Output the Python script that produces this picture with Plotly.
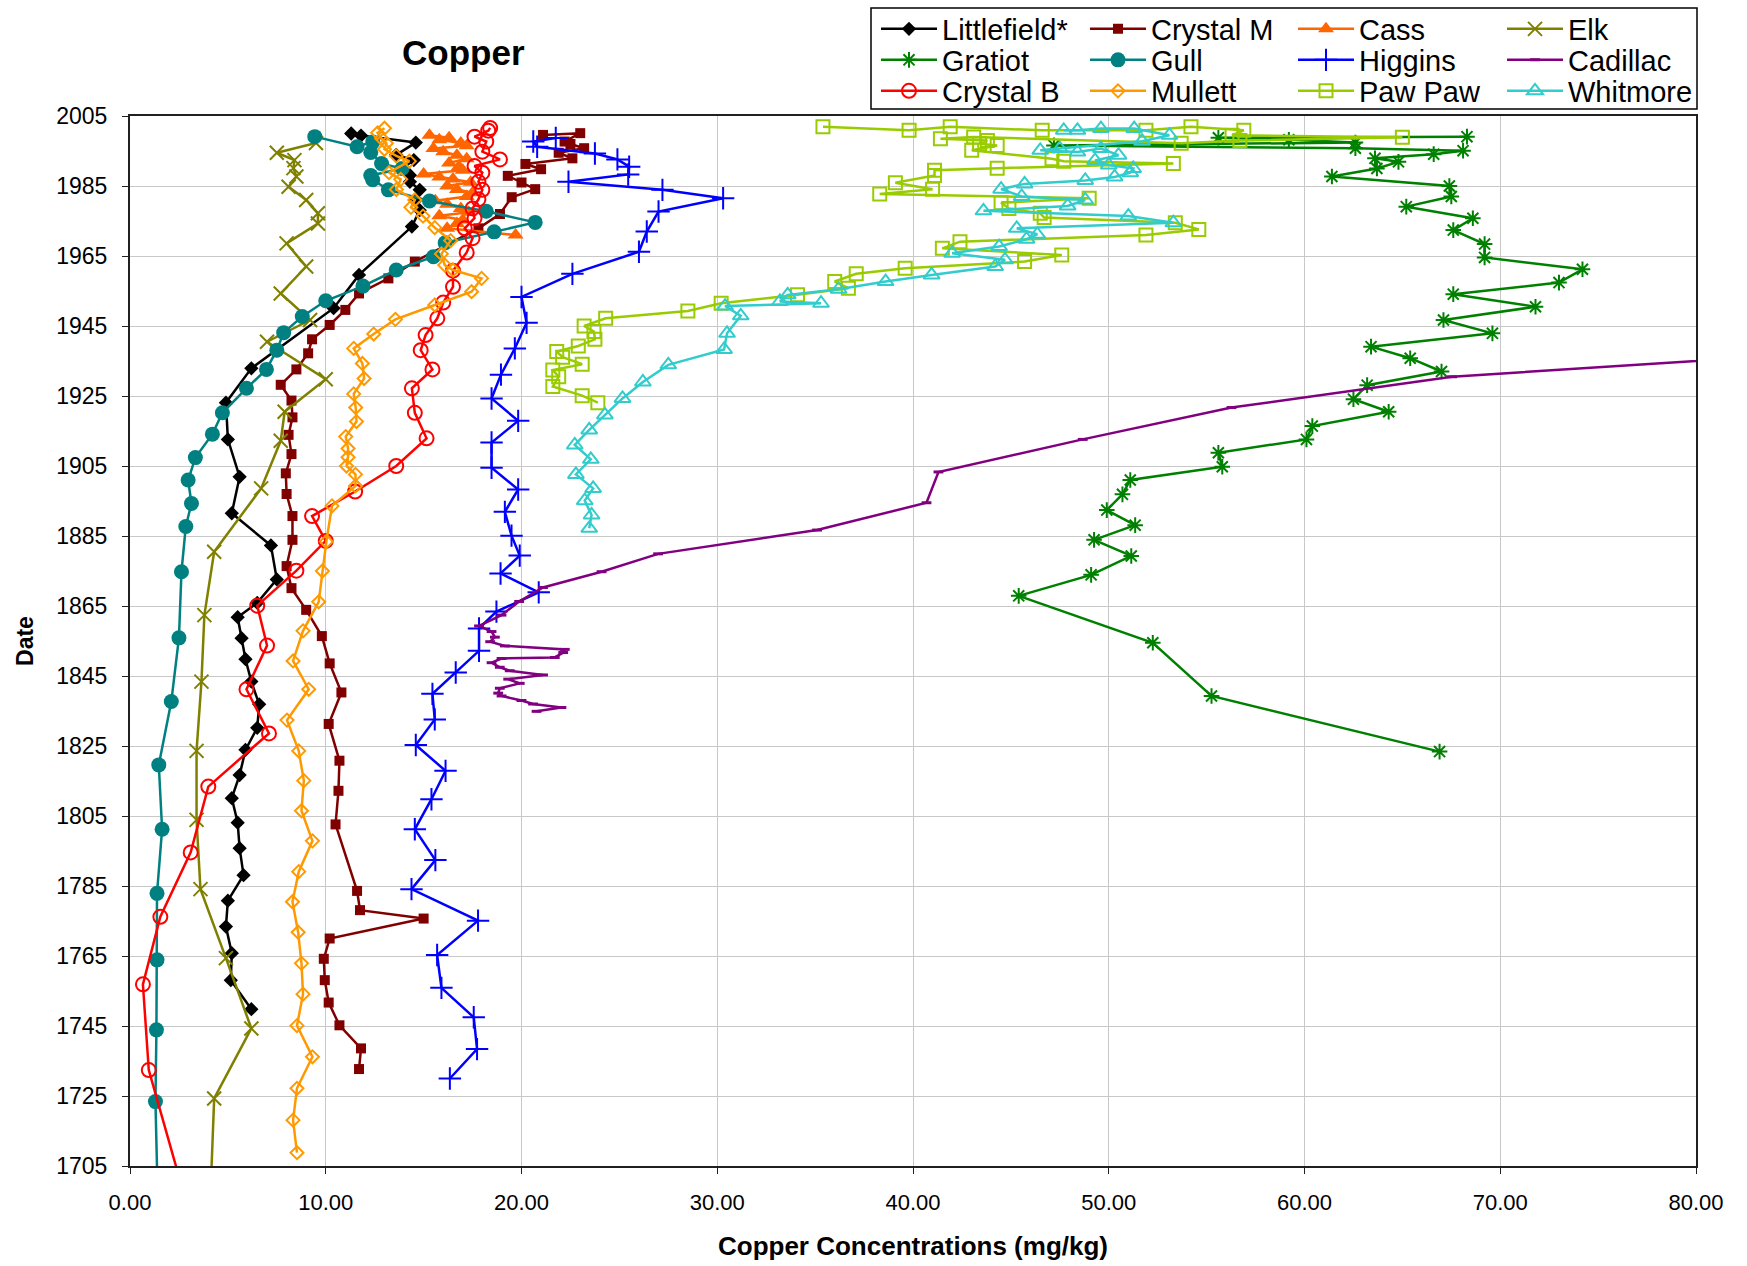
import plotly.graph_objects as go

# ---- Copper concentration (mg/kg) versus sediment date, one core per lake ----
# Each list runs from the top of the core (most recent) downward.

littlefield_yr = [2000.0, 1999.4, 1997.4, 1993.9, 1992.4, 1990.1, 1988.1, 1986.2, 1983.9, 1981.0,
                  1978.1, 1973.4, 1959.6, 1950.1, 1932.9, 1923.1, 1912.6, 1901.9, 1891.5, 1882.3,
                  1872.6, 1865.9, 1861.8, 1855.8, 1849.8, 1843.4, 1836.9, 1830.2, 1823.9, 1816.7,
                  1810.1, 1803.1, 1795.8, 1788.1, 1780.8, 1773.4, 1765.8, 1758.1, 1749.8]
littlefield_cu = [11.3, 11.8, 14.6, 13.6, 14.5, 13.9, 14.3, 14.3, 14.8, 14.6,
                  14.8, 14.4, 11.7, 10.4, 6.2, 4.9, 5.0, 5.6, 5.2, 7.2,
                  7.5, 6.5, 5.5, 5.7, 5.9, 6.2, 6.6, 6.5, 5.9, 5.6,
                  5.2, 5.5, 5.6, 5.8, 5.0, 4.9, 5.2, 5.15, 6.2]

crystal_m_yr = [1999.6, 2000.1, 1997.7, 1997.0, 1995.8, 1994.5, 1992.9, 1991.3, 1989.8, 1987.9,
                1986.0, 1984.1, 1981.8, 1977.0, 1972.9, 1963.4, 1958.6, 1954.3, 1949.6, 1945.3,
                1941.2, 1937.2, 1932.6, 1928.2, 1923.7, 1918.9, 1913.9, 1908.4, 1902.9, 1897.0,
                1890.7, 1883.9, 1876.4, 1870.1, 1863.9, 1856.4, 1848.6, 1840.3, 1831.3, 1820.8,
                1812.2, 1802.6, 1783.6, 1778.1, 1775.7, 1770.0, 1764.2, 1758.1, 1751.7, 1745.2,
                1738.6, 1732.7]
crystal_m_cu = [21.1, 23.0, 22.2, 22.5, 23.2, 21.9, 22.6, 20.2, 21.0, 19.3,
                20.0, 20.7, 19.5, 18.9, 17.8, 14.55, 13.2, 11.7, 11.0, 10.2,
                9.3, 9.1, 8.5, 7.7, 8.25, 8.3, 8.1, 8.25, 7.96, 8.0,
                8.3, 8.3, 8.0, 8.25, 9.0, 9.8, 10.2, 10.8, 10.15, 10.7,
                10.65, 10.5, 11.6, 11.75, 15.0, 10.2, 9.9, 9.95, 10.15, 10.7,
                11.8, 11.7]

cass_yr = [1999.5, 1998.8, 1998.2, 1997.3, 1996.5, 1995.7, 1994.8, 1993.8, 1992.8, 1991.6,
           1990.6, 1989.5, 1988.4, 1987.6, 1987.0, 1986.1, 1985.0, 1984.0, 1983.1, 1982.0,
           1980.8, 1979.8, 1978.6, 1977.5, 1976.5, 1975.3, 1974.3, 1972.9, 1971.0]
cass_cu = [15.3, 16.3, 15.8, 16.9, 17.2, 15.5, 16.0, 16.7, 17.2, 16.3,
           16.8, 17.0, 15.0, 15.8, 16.5, 17.4, 16.2, 16.7, 17.5, 17.2,
           15.6, 16.2, 16.9, 17.3, 15.8, 17.0, 16.7, 16.2, 19.7]

elk_yr = [1997.3, 1994.5, 1992.4, 1990.1, 1987.7, 1984.8, 1981.0, 1977.2, 1974.3, 1968.6,
          1962.0, 1954.3, 1946.7, 1940.5, 1929.8, 1920.5, 1912.2, 1898.6, 1880.5, 1862.4,
          1843.4, 1823.6, 1803.9, 1784.1, 1764.4, 1744.3, 1724.3, 1695.0]
elk_cu = [9.5, 7.5, 8.4, 8.35, 8.5, 8.1, 9.0, 9.6, 9.6, 8.0,
          9.0, 7.7, 9.2, 7.0, 10.0, 7.9, 7.7, 6.7, 4.3, 3.8,
          3.65, 3.4, 3.4, 3.6, 4.9, 6.2, 4.3, 4.1]

gratiot_yr = [1999.1, 1998.8, 1998.2, 1997.4, 1996.6, 1995.8, 1995.1, 1994.1, 1992.9, 1991.9,
              1990.0, 1987.7, 1985.0, 1982.0, 1979.1, 1975.8, 1972.4, 1968.4, 1964.6, 1961.2,
              1957.4, 1954.1, 1950.5, 1946.7, 1942.9, 1939.1, 1935.8, 1932.0, 1928.1, 1924.1,
              1920.5, 1916.4, 1912.6, 1908.8, 1904.8, 1901.0, 1896.9, 1892.4, 1888.1, 1883.9,
              1879.3, 1873.9, 1867.9, 1854.5, 1839.3, 1823.4]
gratiot_cu = [68.3, 55.6, 59.2, 62.6, 47.2, 62.6, 68.1, 66.6, 63.6, 64.8,
              63.7, 61.4, 67.4, 67.5, 65.2, 68.6, 67.6, 69.2, 69.2, 74.2,
              73.0, 67.6, 71.8, 67.1, 69.6, 63.4, 65.4, 67.0, 63.2, 62.5,
              64.3, 60.4, 60.1, 55.6, 55.8, 51.1, 50.7, 49.9, 51.35, 49.25,
              51.15, 49.1, 45.4, 52.25, 55.25, 66.9]

gull_yr = [1999.1, 1996.2, 1997.6, 1994.6, 1991.4, 1990.0, 1988.0, 1986.8, 1983.9, 1980.7,
           1977.8, 1974.6, 1971.9, 1968.8, 1964.8, 1961.0, 1956.4, 1952.2, 1947.7, 1943.1,
           1938.1, 1932.6, 1927.2, 1920.2, 1914.1, 1907.4, 1901.0, 1894.3, 1887.7, 1874.8,
           1855.9, 1837.7, 1819.6, 1801.2, 1782.9, 1763.9, 1743.9, 1723.4, 1695.0]
gull_cu = [9.44, 11.6, 12.4, 12.3, 12.85, 13.9, 12.3, 12.4, 13.2, 15.3,
           18.2, 20.7, 18.6, 16.1, 15.5, 13.6, 11.9, 10.0, 8.8, 7.85,
           7.5, 6.97, 5.95, 4.72, 4.21, 3.34, 2.97, 3.14, 2.85, 2.63,
           2.5, 2.11, 1.47, 1.64, 1.38, 1.38, 1.35, 1.3, 1.42]

higgins_yr = [1998.7, 1997.7, 1996.2, 1994.3, 1992.6, 1990.5, 1988.3, 1986.2, 1983.9, 1981.5,
              1977.7, 1972.0, 1966.2, 1959.9, 1953.3, 1945.9, 1938.6, 1931.1, 1924.3, 1917.9,
              1911.7, 1904.5, 1898.3, 1891.9, 1885.1, 1879.4, 1874.3, 1868.9, 1863.4, 1858.6,
              1852.2, 1846.0, 1839.9, 1832.6, 1825.3, 1817.9, 1809.8, 1801.2, 1792.4, 1784.1,
              1775.1, 1765.3, 1755.9, 1747.5, 1738.4, 1730.0]
higgins_cu = [21.75, 20.6, 20.8, 23.75, 24.9, 25.5, 25.45, 22.4, 27.2, 30.3,
              27.0, 26.4, 26.0, 22.6, 20.0, 20.26, 19.66, 18.95, 18.47, 19.83,
              18.47, 18.47, 19.83, 19.15, 19.49, 19.91, 18.93, 20.88, 18.72, 17.83,
              17.83, 16.64, 15.45, 15.57, 14.6, 16.12, 15.4, 14.55, 15.6, 14.38,
              17.78, 15.69, 15.91, 17.56, 17.73, 16.34]

cadillac_yr = [1936.8, 1930.5, 1921.7, 1912.6, 1903.3, 1894.5, 1886.7, 1879.9, 1874.8, 1870.3,
               1866.3, 1862.4, 1859.3, 1857.7, 1856.1, 1854.8, 1853.6, 1852.6, 1851.7, 1850.3,
               1850.0, 1848.8, 1847.5, 1846.5, 1845.3, 1844.1, 1842.9, 1841.5, 1840.1, 1839.3,
               1838.0, 1837.0, 1836.0, 1834.9]
cadillac_cu = [85.0, 67.54, 56.27, 48.67, 41.3, 40.69, 35.1, 26.98, 24.09, 21.1,
               19.88, 18.98, 17.83, 18.47, 18.64, 18.4, 19.15, 22.21, 22.13, 21.7,
               18.98, 18.47, 18.89, 19.4, 21.1, 19.32, 19.91, 18.89, 18.81, 18.98,
               20.0, 20.59, 22.04, 20.77]

crystal_b_yr = [2001.6, 2000.8, 1999.1, 1997.7, 1994.8, 1992.6, 1990.7, 1988.8, 1986.2, 1983.9,
                1981.2, 1978.6, 1975.8, 1972.9, 1970.1, 1966.0, 1960.8, 1956.2, 1951.7, 1947.2,
                1942.4, 1938.1, 1932.6, 1927.2, 1920.2, 1912.9, 1905.0, 1897.7, 1890.7, 1883.6,
                1875.1, 1865.1, 1853.7, 1841.2, 1828.6, 1813.4, 1794.6, 1776.2, 1756.9, 1732.4,
                1700.0]
crystal_b_cu = [18.4, 18.3, 17.6, 18.2, 18.0, 18.9, 17.6, 18.0, 17.8, 18.0,
                17.8, 17.5, 17.6, 17.1, 17.5, 17.2, 16.5, 16.5, 16.0, 15.7,
                15.1, 14.85, 15.45, 14.4, 14.55, 15.15, 13.6, 11.5, 9.3, 10.0,
                8.5, 6.5, 7.0, 5.95, 7.1, 4.0, 3.1, 1.55, 0.66, 0.96,
                2.6]

mullett_yr = [2001.5, 2000.2, 1998.6, 1997.2, 1995.5, 1993.6, 1992.1, 1988.8, 1986.9, 1984.0,
              1981.0, 1978.9, 1976.4, 1973.1, 1969.4, 1965.6, 1962.4, 1961.0, 1958.6, 1954.8,
              1951.0, 1946.9, 1942.7, 1938.6, 1934.3, 1930.0, 1925.6, 1921.7, 1917.7, 1913.4,
              1910.0, 1907.5, 1905.0, 1902.6, 1899.3, 1893.6, 1883.4, 1875.0, 1866.2, 1857.9,
              1849.3, 1841.2, 1832.4, 1823.6, 1815.1, 1806.5, 1797.9, 1789.1, 1780.5, 1771.8,
              1762.9, 1754.1, 1745.1, 1736.2, 1727.2, 1718.1, 1708.8]
mullett_cu = [13.0, 12.65, 12.85, 13.1, 13.0, 13.6, 14.27, 13.23, 13.83, 13.61,
              14.55, 14.35, 14.97, 15.57, 16.38, 15.91, 16.08, 16.5, 17.96, 17.45,
              15.57, 13.56, 12.45, 11.43, 11.87, 11.96, 11.43, 11.53, 11.57, 11.02,
              11.14, 11.14, 11.06, 11.52, 11.52, 10.32, 10.03, 9.83, 9.64, 8.84,
              8.33, 9.13, 8.02, 8.62, 8.88, 8.76, 9.32, 8.62, 8.3, 8.59,
              8.76, 8.84, 8.53, 9.32, 8.53, 8.33, 8.53]

paw_paw_yr = [2001.9, 2000.9, 2001.9, 2000.9, 2000.9, 2001.9, 2000.9, 1999.5, 1998.9, 1998.0,
              1997.2, 1999.0, 1998.5, 1998.0, 1997.1, 1996.6, 1995.2, 1992.8, 1992.1, 1991.4,
              1990.1, 1989.5, 1988.0, 1985.9, 1984.1, 1982.7, 1981.5, 1980.2, 1978.6, 1977.2,
              1976.0, 1974.5, 1972.6, 1971.0, 1969.1, 1967.2, 1965.3, 1963.4, 1961.5, 1959.9,
              1957.7, 1955.8, 1953.9, 1951.5, 1949.3, 1947.2, 1945.0, 1943.4, 1941.2, 1939.3,
              1937.7, 1936.1, 1934.1, 1932.4, 1930.5, 1927.7, 1925.1, 1923.1]
paw_paw_cu = [35.4, 39.8, 41.9, 46.6, 51.9, 54.2, 56.9, 56.3, 65.0, 56.7,
              53.7, 43.1, 41.4, 43.8, 43.4, 44.3, 43.0, 47.1, 47.7, 53.3,
              44.3, 41.1, 41.1, 39.1, 41.0, 38.3, 49.0, 44.5, 44.9, 46.5,
              46.7, 53.4, 54.6, 51.9, 42.4, 41.5, 47.6, 45.7, 39.6, 37.1,
              36.0, 36.7, 34.1, 30.2, 28.5, 24.3, 23.2, 23.7, 23.75, 22.9,
              21.8, 22.1, 23.1, 21.6, 21.9, 21.6, 23.1, 23.9]

whitmore_yr = [2000.9, 2000.9, 2001.4, 2001.4, 1999.5, 1997.8, 1995.7, 1995.2, 1994.7, 1995.7,
               1993.8, 1992.3, 1991.0, 1990.0, 1988.8, 1987.6, 1986.6, 1985.6, 1984.1, 1982.0,
               1981.0, 1979.3, 1977.9, 1976.4, 1974.5, 1972.9, 1971.2, 1969.8, 1967.7, 1965.8,
               1963.9, 1962.0, 1959.6, 1957.7, 1955.5, 1953.9, 1952.0, 1951.5, 1950.7, 1947.9,
               1942.9, 1938.3, 1933.9, 1929.0, 1924.3, 1919.6, 1915.3, 1911.0, 1906.9, 1902.6,
               1898.6, 1895.1, 1891.0, 1887.2]
whitmore_cu = [47.7, 48.4, 49.6, 51.3, 53.1, 51.7, 47.5, 46.5, 48.4, 49.6,
               50.5, 49.3, 50.0, 51.25, 51.1, 50.3, 48.8, 45.7, 44.5, 45.55,
               48.8, 47.9, 43.6, 51.0, 53.3, 45.3, 46.35, 45.8, 44.4, 42.0,
               44.7, 44.2, 40.95, 38.6, 36.2, 33.6, 33.2, 35.3, 30.4, 31.2,
               30.5, 30.35, 27.5, 26.2, 25.16, 24.26, 23.46, 22.72, 23.54, 22.78,
               23.66, 23.23, 23.58, 23.46]

x_ticks = [0, 10, 20, 30, 40, 50, 60, 70, 80]
y_ticks = list(range(1705, 2006, 20))

FONT = "Liberation Sans, Arial, sans-serif"

# name, values, dates, colour, marker symbol, marker size, marker outline width
series = [
    ("Littlefield*", littlefield_cu, littlefield_yr, "#000000", "diamond", 11, 0),
    ("Crystal M", crystal_m_cu, crystal_m_yr, "#800000", "square", 10, 0),
    ("Cass", cass_cu, cass_yr, "#FF6600", "triangle-up", 14, 0),
    ("Elk", elk_cu, elk_yr, "#808000", "x-thin-open", 14, 2),
    ("Gratiot", gratiot_cu, gratiot_yr, "#008000", "asterisk-open", 13, 2),
    ("Gull", gull_cu, gull_yr, "#008080", "circle", 15, 0),
    ("Higgins", higgins_cu, higgins_yr, "#0000FF", "cross-thin-open", 16, 2),
    ("Cadillac", cadillac_cu, cadillac_yr, "#800080", "line-ew-open", 7, 3),
    ("Crystal B", crystal_b_cu, crystal_b_yr, "#FF0000", "circle-open", 14, 2),
    ("Mullett", mullett_cu, mullett_yr, "#FF9900", "diamond-open", 10, 2),
    ("Paw Paw", paw_paw_cu, paw_paw_yr, "#99CC00", "square-open", 13, 2),
    ("Whitmore", whitmore_cu, whitmore_yr, "#33CCCC", "triangle-up-open", 14, 2),
]

# pixel geometry of the plotting area
W, H = 1747, 1266
L, R, T, B = 130, 51, 116, 100
PW, PH = W - L - R, H - T - B


def px_x(x):
    return (x - L) / PW


def px_y(y):
    return (H - B - y) / PH


fig = go.Figure()

# legend grid: 4 columns x 3 rows, each entry in its own legend box
col_x = [881, 1090, 1298, 1507]
row_y = [29, 60, 91]
legend_layouts = {}
for i, (name, cu, yr, color, symbol, size, lw) in enumerate(series):
    key = "legend" if i == 0 else f"legend{i + 1}"
    row, col = divmod(i, 4)
    legend_layouts[key] = dict(
        x=px_x(col_x[col] - 5), y=px_y(row_y[row]),
        xanchor="left", yanchor="middle",
        bgcolor="rgba(0,0,0,0)", borderwidth=0,
        font=dict(family=FONT, size=29, color="#000000"),
        itemwidth=56,
    )
    marker = dict(symbol=symbol, size=size, color=color,
                  line=dict(width=lw, color=color))
    fig.add_trace(go.Scatter(
        x=cu, y=yr, name=name, mode="lines+markers",
        line=dict(color=color, width=2.5),
        marker=marker, legend=key,
    ))

fig.update_layout(**legend_layouts)

fig.update_layout(
    width=W, height=H,
    margin=dict(l=L, r=R, t=T, b=B, autoexpand=False),
    paper_bgcolor="#FFFFFF", plot_bgcolor="#FFFFFF",
    font=dict(family=FONT, color="#000000"),
    showlegend=True,
    xaxis=dict(
        range=[0, 80], tickvals=x_ticks, tickformat=".2f",
        showgrid=True, gridcolor="#C8C8C8", gridwidth=1,
        showline=True, linecolor="#202020", linewidth=2, mirror=True,
        ticks="outside", ticklen=6, tickcolor="#202020",
        tickfont=dict(size=22), zeroline=False, ticklabelstandoff=10,
        title=dict(text="<b>Copper Concentrations (mg/kg)</b>",
                   font=dict(size=26), standoff=22),
    ),
    yaxis=dict(
        range=[1705, 2005], tickvals=y_ticks,
        showgrid=True, gridcolor="#C8C8C8", gridwidth=1,
        showline=True, linecolor="#202020", linewidth=2, mirror=True,
        ticks="outside", ticklen=6, tickcolor="#202020",
        tickfont=dict(size=23), zeroline=False, ticklabelstandoff=10,
        title=dict(text="<b>Date</b>", font=dict(size=23), standoff=16),
    ),
    annotations=[dict(
        text="<b>Copper</b>", x=px_x(463), y=px_y(52),
        xref="paper", yref="paper", showarrow=False,
        xanchor="center", yanchor="middle",
        font=dict(size=35, family=FONT),
    )],
    shapes=[dict(
        type="rect", xref="paper", yref="paper",
        x0=px_x(871), x1=px_x(1697), y0=px_y(109), y1=px_y(8),
        line=dict(color="#000000", width=1.5), fillcolor="rgba(0,0,0,0)",
    )],
)

fig.write_html("out.html")
